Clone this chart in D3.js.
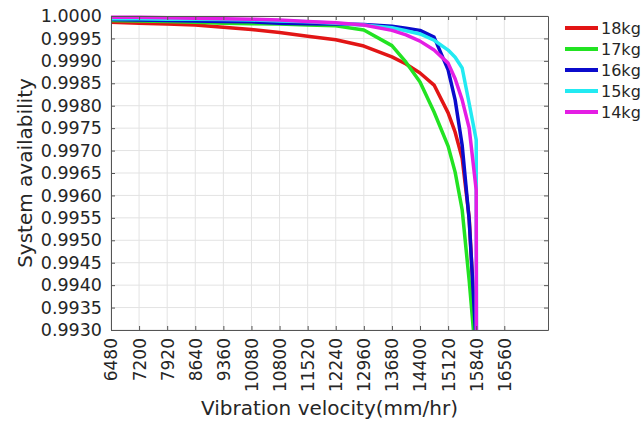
<!DOCTYPE html>
<html>
<head>
<meta charset="utf-8">
<script src="https://cdn.jsdelivr.net/npm/d3@7"></script>
<style>
  body { margin: 0; background: #fff; }
  text { font-family: "DejaVu Sans", sans-serif; fill: #262626; }
</style>
</head>
<body>
<div id="chart"></div>
<script>
const W = 641, H = 423;
const margin = {left: 111, top: 16, right: 93, bottom: 93};

// data
const velocity = [6480, 7200, 7920, 8640, 9360, 10080, 10800, 11520, 12240, 12960, 13680,
  14040, 14400, 14760, 15120, 15300, 15480, 15660, 15840];
const kg18 = [0.99986, 0.99984, 0.99982, 0.99980, 0.99975, 0.99970, 0.99963, 0.99955, 0.99947, 0.99933, 0.99909,
  0.99893, 0.99873, 0.99846, 0.99784, 0.99741, 0.99683, 0.99550, 0.99260];
const kg17 = [0.99990, 0.99989, 0.99988, 0.99986, 0.99984, 0.99983, 0.99982, 0.99980, 0.99978, 0.99969, 0.99934,
  0.99897, 0.99853, 0.99786, 0.99710, 0.99652, 0.99568, 0.99410, 0.99227];
const kg16 = [0.99992, 0.99991, 0.99990, 0.99989, 0.99988, 0.99987, 0.99984, 0.99983, 0.99982, 0.99981, 0.99977,
  0.99973, 0.99968, 0.99953, 0.99880, 0.99813, 0.99712, 0.99545, 0.99267];
const kg15 = [0.99994, 0.99994, 0.99993, 0.99993, 0.99992, 0.99991, 0.99989, 0.99987, 0.99984, 0.99980, 0.99974,
  0.99967, 0.99960, 0.99946, 0.99924, 0.99908, 0.99884, 0.99805, 0.99724];
const kg14 = [0.99997, 0.99997, 0.99996, 0.99995, 0.99994, 0.99993, 0.99991, 0.99988, 0.99985, 0.99980, 0.99968,
  0.99958, 0.99944, 0.99924, 0.99895, 0.99860, 0.99813, 0.99750, 0.99612];
// the last two curves fall straight down just past 15840
const dropX = 15850, dropY = 0.9900;

const names = ["18kg", "17kg", "16kg", "15kg", "14kg"];
const colors = ["#e21515", "#22e322", "#0b0bcc", "#22eaf2", "#e41ee4"];
const xTicks = [6480, 7200, 7920, 8640, 9360, 10080, 10800, 11520, 12240, 12960, 13680, 14400, 15120, 15840, 16560];
const yTicks = [0.9930, 0.9935, 0.9940, 0.9945, 0.9950, 0.9955, 0.9960, 0.9965, 0.9970, 0.9975, 0.9980, 0.9985, 0.9990, 0.9995, 1.0000];

const series = [
  velocity.map((v, i) => [v, kg18[i]]),
  velocity.map((v, i) => [v, kg17[i]]),
  velocity.map((v, i) => [v, kg16[i]]),
  velocity.map((v, i) => [v, kg15[i]]).concat([[dropX, dropY]]),
  velocity.map((v, i) => [v, kg14[i]]).concat([[dropX, dropY]])
];

const x0 = margin.left, x1 = W - margin.right;
const y0 = margin.top, y1 = H - margin.bottom;

const x = d3.scaleLinear().domain([6480, 17680]).range([x0, x1]);
const y = d3.scaleLinear().domain([0.9930, 1.0000]).range([y1, y0]);

const svg = d3.select('#chart').append('svg')
  .attr('width', W)
  .attr('height', H);

// grid
svg.append('g').selectAll('line').data(xTicks).join('line')
  .attr('x1', d => x(d)).attr('x2', d => x(d))
  .attr('y1', y0).attr('y2', y1)
  .attr('stroke', '#e3e3e3').attr('stroke-width', 1);
svg.append('g').selectAll('line').data(yTicks).join('line')
  .attr('x1', x0).attr('x2', x1)
  .attr('y1', d => y(d)).attr('y2', d => y(d))
  .attr('stroke', '#e3e3e3').attr('stroke-width', 1);

// curves
svg.append('clipPath').attr('id', 'clip')
  .append('rect').attr('x', x0).attr('y', y0 - 3).attr('width', x1 - x0).attr('height', y1 - y0 + 3);

const line = d3.line().x(d => x(d[0])).y(d => y(d[1]));
svg.append('g').attr('clip-path', 'url(#clip)')
  .selectAll('path').data(series).join('path')
  .attr('d', line)
  .attr('fill', 'none')
  .attr('stroke', (d, i) => colors[i])
  .attr('stroke-width', 3.5)
  .attr('stroke-linejoin', 'round');

// axes, ticks pointing inwards
const fmt = d3.format('.4f');
const styleAxis = g => {
  g.select('.domain').attr('stroke', '#555');
  g.selectAll('.tick line').attr('stroke', '#555');
};

svg.append('g').attr('transform', `translate(${x0},0)`)
  .call(d3.axisLeft(y).tickValues(yTicks).tickFormat(fmt).tickSize(-4).tickSizeOuter(0).tickPadding(9))
  .call(styleAxis)
  .call(g => g.selectAll('text').style('font-size', '17.5px').style('font-family', 'DejaVu Sans').attr('fill', '#262626'));

svg.append('g').attr('transform', `translate(${x1},0)`)
  .call(d3.axisRight(y).tickValues(yTicks).tickFormat('').tickSize(-4).tickSizeOuter(0))
  .call(styleAxis);

svg.append('g').attr('transform', `translate(0,${y1})`)
  .call(d3.axisBottom(x).tickValues(xTicks).tickFormat(d3.format('d')).tickSize(-4).tickSizeOuter(0))
  .call(styleAxis)
  .call(g => g.selectAll('text')
    .attr('transform', 'rotate(-90)')
    .attr('x', -8).attr('y', 0).attr('dy', '0.35em')
    .style('text-anchor', 'end')
    .style('font-size', '17px').style('font-family', 'DejaVu Sans').attr('fill', '#262626'));

svg.append('g').attr('transform', `translate(0,${y0})`)
  .call(d3.axisTop(x).tickValues(xTicks).tickFormat('').tickSize(-4).tickSizeOuter(0))
  .call(styleAxis);

// axis titles
svg.append('text')
  .attr('x', (x0 + x1) / 2).attr('y', 415)
  .attr('text-anchor', 'middle')
  .style('font-size', '20px')
  .text('Vibration velocity(mm/hr)');

svg.append('text')
  .attr('transform', `translate(32,${(y0 + y1) / 2}) rotate(-90)`)
  .attr('text-anchor', 'middle')
  .style('font-size', '20px')
  .text('System availability');

// legend
const legend = svg.append('g').selectAll('g').data(names).join('g')
  .attr('transform', (d, i) => `translate(565,${28 + i * 21})`);
legend.append('line')
  .attr('x1', 0).attr('x2', 33).attr('y1', 0).attr('y2', 0)
  .attr('stroke', (d, i) => colors[i]).attr('stroke-width', 4);
legend.append('text')
  .attr('x', 36).attr('y', 6)
  .style('font-size', '16px')
  .text(d => d);
</script>
</body>
</html>
